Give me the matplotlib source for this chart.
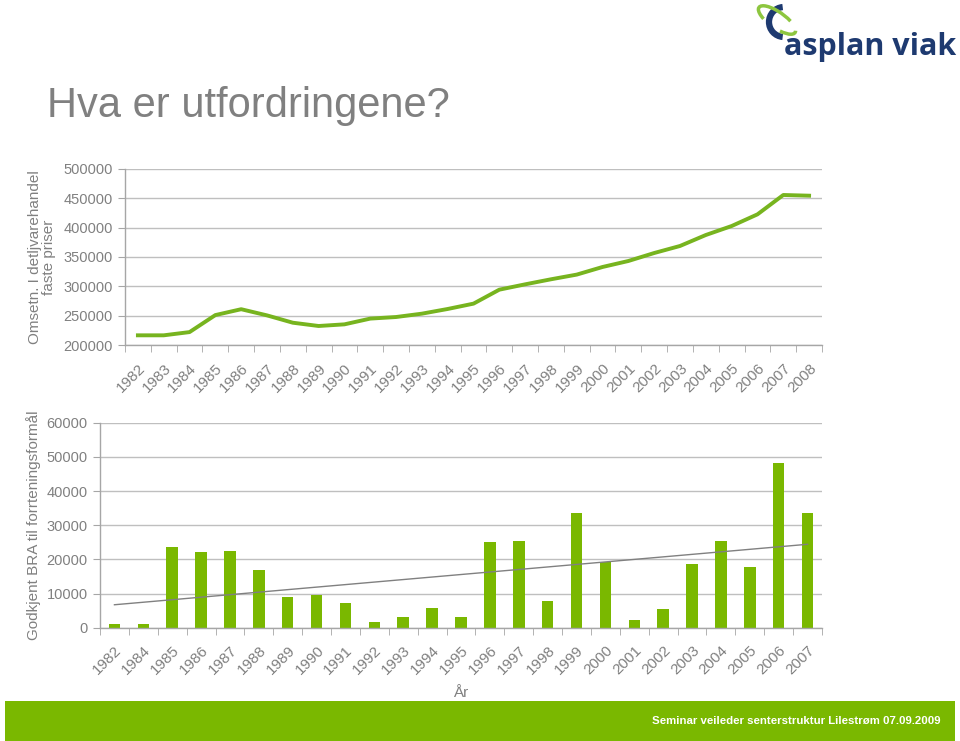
import matplotlib
matplotlib.use("Agg")
import matplotlib.pyplot as plt
import numpy as np
from matplotlib.patches import Arc, Rectangle
import matplotlib.transforms as mtrans

plt.rcParams['font.family'] = ['Liberation Sans', 'DejaVu Sans']

# ---- data ----
years_top = [str(y) for y in range(1982, 2009)]
omsetning = [216500, 216500, 222000, 251000, 261000, 250500, 238000, 232400,
             235200, 245000, 247700, 253400, 261400, 270500, 294300, 303400,
             312000, 320000, 333000, 343200, 356800, 368800, 387500, 402800,
             422700, 455700, 454500]

years_bot = ['1982'] + [str(y) for y in range(1984, 2008)]
bra = [1000, 1200, 23700, 22300, 22500, 17000, 8900, 9600, 7300, 1750,
       3100, 5700, 3100, 25050, 25250, 7750, 33700, 19200, 2150, 5450,
       18550, 25250, 17750, 48200, 33700]

top_yticks = [200000, 250000, 300000, 350000, 400000, 450000, 500000]
bot_yticks = [0, 10000, 20000, 30000, 40000, 50000, 60000]

GREEN = '#7AB800'
LINEG = '#77B41F'
GRAY = '#808080'
GRID = '#BFBFBF'
SPINE = '#A6A6A6'
NAVY = '#1E3A70'

fig = plt.figure(figsize=(9.6, 7.41), dpi=100)
W, H = 960, 741

def px_axes(l, t, r, b):
    return fig.add_axes([l / W, 1 - b / H, (r - l) / W, (b - t) / H])

def style(ax, n):
    for s in ['top', 'right']:
        ax.spines[s].set_visible(False)
    for s in ['left', 'bottom']:
        ax.spines[s].set_color(SPINE)
        ax.spines[s].set_linewidth(1.0)
    ax.set_xlim(-0.5, n - 0.5)
    ax.set_xticks(np.arange(n))
    ax.set_xticks(np.arange(n + 1) - 0.5, minor=True)
    ax.tick_params(axis='x', which='major', length=0, pad=15, labelsize=11, labelcolor=GRAY)
    ax.tick_params(axis='x', which='minor', length=5, color=SPINE, direction='out')
    ax.tick_params(axis='y', length=5, color=SPINE, labelsize=10.5, labelcolor=GRAY, pad=4)
    ax.yaxis.grid(True, color=GRID, linewidth=1.0)
    ax.set_axisbelow(True)

# ---- top chart ----
ax1 = px_axes(125, 169, 822, 345)
style(ax1, len(years_top))
ax1.plot(np.arange(len(years_top)), omsetning, color=LINEG, linewidth=2.8,
         solid_joinstyle='round')
ax1.set_ylim(200000, 500000)
ax1.set_yticks(top_yticks)
ax1.set_yticklabels([str(v) for v in top_yticks])
ax1.set_xticklabels(years_top, rotation=45, ha='right', va='center',
                    rotation_mode='anchor')
ax1.set_ylabel('Omsetn. I detljvarehandel\nfaste priser', color=GRAY,
               fontsize=11, linespacing=1.0, labelpad=5)

# ---- bottom chart ----
ax2 = px_axes(100, 422.7, 822, 627.7)
style(ax2, len(years_bot))
x = np.arange(len(years_bot))
ax2.bar(x, bra, width=0.4, color=GREEN, zorder=2)
coef = np.polyfit(x, bra, 1)
ax2.plot(x, np.polyval(coef, x), color=GRAY, linewidth=1.0, zorder=3)
ax2.set_ylim(0, 60000)
ax2.set_yticks(bot_yticks)
ax2.set_yticklabels([str(v) for v in bot_yticks])
ax2.set_xticklabels(years_bot, rotation=45, ha='right', va='center',
                    rotation_mode='anchor')
ax2.set_ylabel('Godkjent BRA til forrteningsformål', color=GRAY, fontsize=11,
               labelpad=4)
fig.text(461 / W, 1 - 693 / H, 'År', color=GRAY, fontsize=11,
         ha='center', va='center')

# shift tick labels a little to the right
for ax in (ax1, ax2):
    off = mtrans.ScaledTranslation(5 / 100, 0, fig.dpi_scale_trans)
    for lab in ax.get_xticklabels():
        lab.set_transform(lab.get_transform() + off)

# ---- title ----
fig.text(47 / W, 1 - 117 / H, 'Hva er utfordringene?', fontsize=30,
         color=GRAY, ha='left', va='baseline')

# ---- footer ----
fig.patches.append(Rectangle((5 / W, 0), 950 / W, 40 / H, transform=fig.transFigure,
                             facecolor=GREEN, edgecolor='none'))
fig.text(940 / W, 1 - 721 / H, 'Seminar veileder senterstruktur Lilestrøm 07.09.2009',
         color='white', fontsize=8.2, fontweight='bold', ha='right', va='center')

# ---- logo ----
fig.text(784 / W, 1 - 55 / H, 'asplan viak', fontsize=22, fontweight='bold',
         color=NAVY, family=['Open Sans', 'DejaVu Sans'], ha='left', va='baseline')
logo = fig.add_axes([0, 0, 1, 1], facecolor='none')
logo.set_xlim(0, W)
logo.set_ylim(H, 0)
logo.axis('off')
logo.add_patch(Arc((784, 22), 30, 30, theta1=95, theta2=265, color=NAVY, lw=4.5))
logo.add_patch(Arc((777, 20), 44, 16, angle=35, theta1=150, theta2=330,
                   color='#8DC63F', lw=2.5))
logo.add_patch(Arc((777, 20), 44, 16, angle=35, theta1=355, theta2=40,
                   color='#8DC63F', lw=2.5))

fig.savefig('out.png', dpi=100)
